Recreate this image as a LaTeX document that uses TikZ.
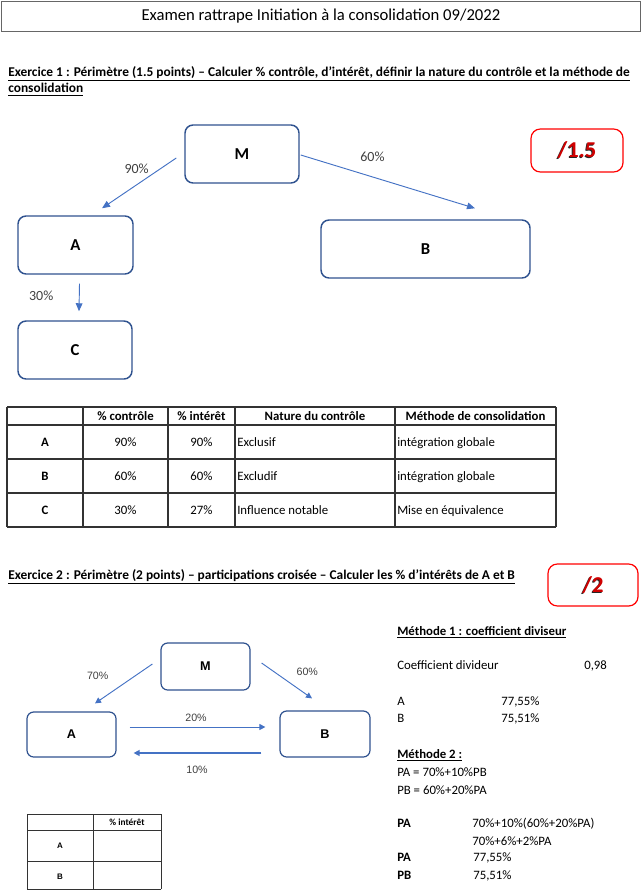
\documentclass[tikz,border=0pt]{standalone}
\usepackage{fontspec}
\setmainfont{Carlito}
\newfontfamily\arialfont{Liberation Sans}
\usetikzlibrary{arrows.meta}

\definecolor{boxblue}{HTML}{2F528F}
\definecolor{arrowblue}{HTML}{4472C4}
\definecolor{markred}{HTML}{D00000}
\definecolor{textgray}{HTML}{404040}

\begin{document}
\begin{tikzpicture}[x=0.75pt,y=-0.75pt]
\tikzstyle{entity}=[draw=boxblue,line width=1.1pt,rounded corners=6pt,inner sep=0pt,font=\fontsize{12.5}{14}\selectfont\bfseries]
\tikzstyle{entitysm}=[draw=boxblue,line width=0.9pt,rounded corners=5pt,inner sep=0pt,font=\arialfont\fontsize{9.5}{11}\selectfont\bfseries]
\tikzstyle{link}=[draw=arrowblue,line width=0.7pt,-{Triangle[length=6pt,width=5pt]}]
\tikzstyle{linksm}=[draw=arrowblue,line width=0.7pt,-{Triangle[length=4.5pt,width=4.5pt]}]
\tikzstyle{lbl}=[text=textgray,font=\fontsize{10.5}{12}\selectfont,inner sep=0pt]
\tikzstyle{lblsm}=[text=textgray,font=\arialfont\fontsize{8}{9}\selectfont,inner sep=0pt]
\tikzstyle{txt}=[anchor=base west,inner sep=0pt,font=\fontsize{9.6}{11.5}\selectfont]
\tikzstyle{head}=[anchor=base west,inner sep=0pt,font=\fontsize{10.05}{12}\selectfont\bfseries]
\tikzstyle{cell}=[anchor=base,inner sep=0pt,font=\fontsize{9.6}{11.5}\selectfont]
\tikzstyle{grid}=[line width=0.8pt,draw=black!80]
\tikzstyle{score}=[draw=red,line width=0.9pt,rounded corners=7pt,inner sep=0pt]
\tikzstyle{scoretxt}=[font=\fontsize{17}{20}\selectfont\bfseries,inner sep=0pt]

\useasboundingbox (0,0) rectangle (642,892);

% title
\node[draw=black!60,line width=0.6pt,minimum width=639*0.75pt,minimum height=30*0.75pt,inner sep=0pt,font=\fontsize{12.5}{15}\selectfont] (title) at (321,16) {Examen rattrape Initiation à la consolidation 09/2022};

% exercice 1
\node[head] (ex1a) at (8,76) {\underline{Exercice 1 : Périmètre (1.5 points) – Calculer \% contrôle, d’intérêt, définir la nature du contrôle et la méthode de}};
\node[head] (ex1b) at (8,93) {\underline{consolidation}};

\foreach \name/\point/\w/\h in {
	M/{242,154}/114/58,
	A/{75.5,245}/115/58,
	B/{425.5,249}/209/58,
	C/{75,350}/114/58}
	\node[entity,minimum width=\w*0.75pt,minimum height=\h*0.75pt] (\name) at (\point) {\name};

\draw[link] ([shift={(-8,4)}]M.west) -- ([shift={(26.5,-7)}]A.north) node[lbl,midway,shift={(-2.5,-14.5)}] {90\%};
\draw[link] ([shift={(1,1)}]M.east) -- ([shift={(49.5,-11)}]B.north) node[lbl,pos=0.4,shift={(2,-19.5)}] {60\%};
\draw[link] ([shift={(4,9)}]A.south) -- ([shift={(4,-9)}]C.north) node[lbl,midway,shift={(-38,-2)}] {30\%};

\node[score,minimum width=92*0.75pt,minimum height=43*0.75pt] (note1) at (577,150.5) {};
\node[scoretxt,text=black!85] (note1s) at ([shift={(-1,1)}]note1) {/1.5};
\node[scoretxt,text=markred] (note1t) at (note1) {/1.5};

% tableau 1
\foreach \x in {7,83,168,235,395,556}
	\draw[grid] (\x,407) -- (\x,527);
\foreach \y in {407,425,459,493,527}
	\draw[grid] (7,\y) -- (556,\y);
\node[cell,font=\fontsize{9.6}{11.5}\selectfont\bfseries] (h1) at (125.5,420) {\% contrôle};
\node[cell,font=\fontsize{9.6}{11.5}\selectfont\bfseries] (h2) at (201.5,420) {\% intérêt};
\node[cell,font=\fontsize{9.6}{11.5}\selectfont\bfseries] (h3) at (315,420) {Nature du contrôle};
\node[cell,font=\fontsize{9.6}{11.5}\selectfont\bfseries] (h4) at (475.5,420) {Méthode de consolidation};
\foreach \row/\y/\ctrl/\intr/\nat/\meth in {
	A/446/90\%/90\%/Exclusif/intégration globale,
	B/480/60\%/60\%/Excludif/intégration globale,
	C/514/30\%/27\%/Influence notable/Mise en équivalence}{
	\node[cell,font=\fontsize{9.6}{11.5}\selectfont\bfseries] (r\row) at (45,\y) {\row};
	\node[cell] (c\row) at (125.5,\y) {\ctrl};
	\node[cell] (i\row) at (201.5,\y) {\intr};
	\node[txt] (n\row) at (237,\y) {\nat};
	\node[txt] (m\row) at (397,\y) {\meth};
}

% exercice 2
\node[head] (ex2) at (8,579) {\underline{Exercice 2 : Périmètre (2 points) – participations croisée – Calculer les \% d’intérêts de A et B}};

\node[score,minimum width=90*0.75pt,minimum height=42*0.75pt] (note2) at (593,585) {};
\node[scoretxt,text=black!85] (note2s) at ([shift={(-1,1)}]note2) {/2};
\node[scoretxt,text=markred] (note2t) at (note2) {/2};

\foreach \name/\label/\point/\w/\h in {
	M2/M/{205.5,666.5}/89/47,
	A2/A/{71.5,734.5}/89/45,
	B2/B/{325,734}/90/46}
	\node[entitysm,minimum width=\w*0.75pt,minimum height=\h*0.75pt] (\name) at (\point) {\label};

\draw[linksm] ([shift={(-8,-2.5)}]M2.west) -- ([shift={(23.5,-8)}]A2.north) node[lblsm,midway,shift={(-26,-8)}] {70\%};
\draw[linksm] ([shift={(11,-3.5)}]M2.east) -- ([shift={(-13,-12)}]B2.north) node[lblsm,midway,shift={(20.5,-9)}] {60\%};
\draw[linksm] ([shift={(13,-7.5)}]A2.east) -- ([shift={(-14,-7)}]B2.west) node[lblsm,midway,shift={(-1.5,-9)}] {20\%};
\draw[linksm,line width=1pt] ([shift={(-18,19)}]B2.west) -- ([shift={(17,18.5)}]A2.east) node[lblsm,midway,shift={(-0.5,17)}] {10\%};

% tableau 2
\foreach \x in {27,93,161}
	\draw[grid,line width=0.6pt] (\x,814) -- (\x,889);
\foreach \y in {814,830,861,889}
	\draw[grid,line width=0.6pt] (27,\y) -- (161,\y);
\node[cell,font=\fontsize{7}{8}\selectfont\bfseries] (hint) at (127,825) {\% intérêt};
\node[cell,font=\arialfont\fontsize{6}{7}\selectfont\bfseries] (ra2) at (60,848) {A};
\node[cell,font=\arialfont\fontsize{6}{7}\selectfont\bfseries] (rb2) at (60,879) {B};

% methodes
\node[head,font=\fontsize{9.6}{11.5}\selectfont\bfseries] (meth1) at (397,635) {\underline{Méthode 1 : coefficient diviseur}};
\node[txt] (coef) at (397,669) {Coefficient divideur};
\node[txt] (coefv) at (584,669) {0,98};
\node[txt] (pa1) at (397,705) {A};
\node[txt] (pa1v) at (501,705) {77,55\%};
\node[txt] (pb1) at (397,722) {B};
\node[txt] (pb1v) at (501,722) {75,51\%};
\node[head,font=\fontsize{9.6}{11.5}\selectfont\bfseries] (meth2) at (397,758) {\underline{Méthode 2 :}};
\node[txt] (eqa) at (397,776) {PA = 70\%+10\%PB};
\node[txt] (eqb) at (397,794) {PB = 60\%+20\%PA};
\node[head,font=\fontsize{9.6}{11.5}\selectfont\bfseries] (pa2) at (397,827) {PA};
\node[txt] (pa2a) at (472,827) {70\%+10\%(60\%+20\%PA)};
\node[txt] (pa2b) at (472,845) {70\%+6\%+2\%PA};
\node[head,font=\fontsize{9.6}{11.5}\selectfont\bfseries] (pa3) at (397,861) {PA};
\node[txt] (pa3v) at (473,861) {77,55\%};
\node[head,font=\fontsize{9.6}{11.5}\selectfont\bfseries] (pb3) at (397,879) {PB};
\node[txt] (pb3v) at (473,879) {75,51\%};
\end{tikzpicture}
\end{document}
